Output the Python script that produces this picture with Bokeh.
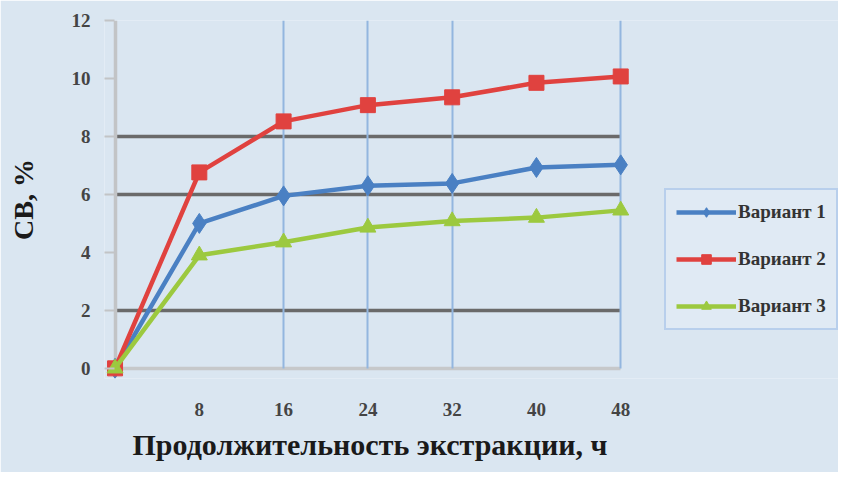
from bokeh.plotting import figure
from bokeh.models import Range1d, FixedTicker, Grid, Legend, LegendItem, Title
from bokeh.embed import file_html
from bokeh.resources import INLINE

hours = [0, 8, 16, 24, 32, 40, 48]
variant1 = [0, 5.0, 5.95, 6.3, 6.38, 6.93, 7.02]
variant2 = [0, 6.76, 8.52, 9.08, 9.35, 9.85, 10.07]
variant3 = [0, 3.9, 4.35, 4.86, 5.08, 5.2, 5.45]
series_names = ["Вариант 1", "Вариант 2", "Вариант 3"]
x_ticks = [8, 16, 24, 32, 40, 48]
y_ticks = [0, 2, 4, 6, 8, 10, 12]
dark_grid = [2, 6, 8, 12]
blue_grid = [16, 24, 32, 48]
x_title = "Продолжительность экстракции, ч"
y_title = "СВ, %"

FONT = "Liberation Serif"
BG = "#dae6f1"

p = figure(width=838, height=472, output_backend="svg", toolbar_location=None,
           x_range=Range1d(-1, 68.67), y_range=Range1d(-0.35, 12),
           min_border_left=104, min_border_right=0, min_border_top=20, min_border_bottom=94)
p.background_fill_color = BG
p.border_fill_color = BG
p.outline_line_color = None
p.grid.visible = False

# grids
p.add_layout(Grid(dimension=1, ticker=FixedTicker(ticks=dark_grid), grid_line_color="#6a6a6a",
                  grid_line_width=3.5, cross_bounds=(0, 48)))
p.add_layout(Grid(dimension=1, ticker=FixedTicker(ticks=[0]), grid_line_color="#c6c8ca",
                  grid_line_width=3.5, cross_bounds=(0, 48)))
p.add_layout(Grid(dimension=0, ticker=FixedTicker(ticks=blue_grid), grid_line_color="#93b6df",
                  grid_line_width=2, cross_bounds=(0, 12)))
p.add_layout(Grid(dimension=0, ticker=FixedTicker(ticks=[0]), grid_line_color="#c2c4c6",
                  grid_line_width=3.5, cross_bounds=(0, 12)))

# axes
for ax in (p.xaxis[0], p.yaxis[0]):
    ax.axis_line_color = None
    ax.minor_tick_line_color = None
    ax.major_label_text_font = FONT
    ax.major_label_text_font_style = "bold"
    ax.major_label_text_font_size = "19px"
    ax.major_label_text_color = "#444444"
    ax.axis_label_text_font = FONT
    ax.axis_label_text_font_style = "bold"
    ax.axis_label_text_color = "#1a1a1a"

p.xaxis.ticker = FixedTicker(ticks=x_ticks)
p.xaxis.major_tick_in = 0
p.xaxis.major_tick_out = 0
p.xaxis.major_label_standoff = 24

p.yaxis.ticker = FixedTicker(ticks=y_ticks)
p.yaxis.major_tick_in = 10
p.yaxis.major_tick_out = 0
p.yaxis.major_tick_line_color = "#c2c4c6"
p.yaxis.major_tick_line_width = 2
p.yaxis.major_label_standoff = 14
p.yaxis.axis_label = y_title
p.yaxis.axis_label_text_font_size = "28px"
p.yaxis.axis_label_standoff = 30

xt = Title(text=x_title, align="left", offset=28, standoff=14, vertical_align="bottom",
           text_font=FONT, text_font_style="bold", text_font_size="30px",
           text_color="#1a1a1a")
p.add_layout(xt, "below")

colors = ["#4a80c3", "#e0423f", "#9cc93f"]
series = [variant1, variant2, variant3]
markers = ["diamond", "square", "triangle"]
sizes = [20, 15, 16]

items = []
for name, vals, c, m, s in zip(series_names, series, colors, markers, sizes):
    l = p.line(hours, vals, line_color=c, line_width=4.5)
    r = p.scatter(hours, vals, marker=m, size=s, fill_color=c, line_color=c)
    items.append(LegendItem(label=name, renderers=[l, r]))

legend = Legend(items=items, location=(560, 48), margin=0,
                background_fill_color="#e0eaf4", background_fill_alpha=1,
                border_line_color="#8fb4e3", border_line_width=2,
                label_text_font=FONT, label_text_font_style="bold",
                label_text_font_size="19px", label_text_color="#333333",
                glyph_width=60, glyph_height=24, label_height=24, spacing=23,
                padding=10, label_standoff=2)
p.add_layout(legend, "center")

open("out.html", "w").write(file_html(p, INLINE))
